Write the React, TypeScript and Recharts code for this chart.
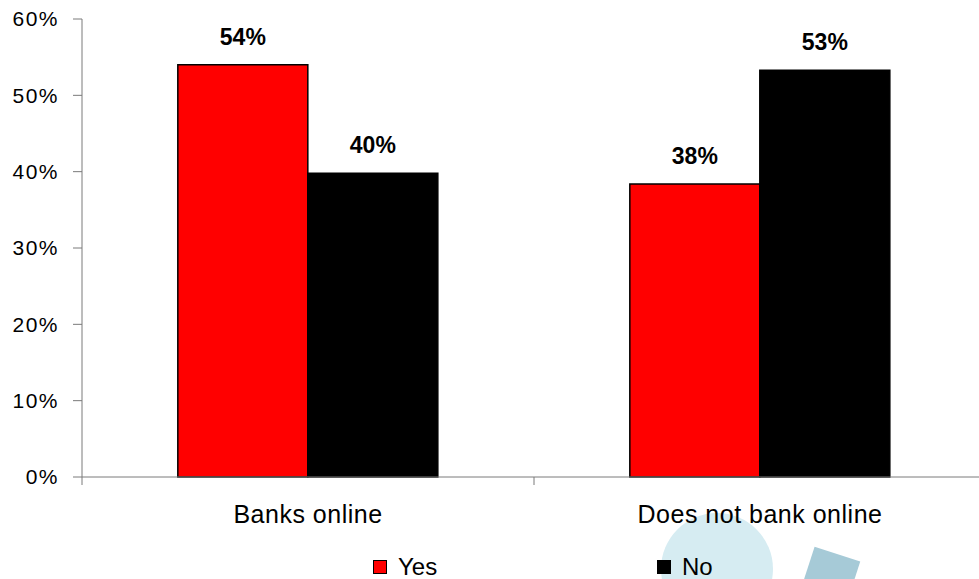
import React from 'react';
import { BarChart, Bar, XAxis, YAxis, Legend, LabelList } from 'recharts';

const categories = ['Banks online', 'Does not bank online'];
const yesValues = [54, 38.4];
const noValues = [39.8, 53.3];
const yTicks = [0, 10, 20, 30, 40, 50, 60];
const seriesOrder = ['yes', 'no'];

const data = categories.map((name, i) => ({ name, yes: yesValues[i], no: noValues[i] }));

const FONT = '"Liberation Sans", Arial, sans-serif';
const AXIS = '#7a7a7a';
const LABEL_GAP = 28;

// category label, plus a tick mark at the left edge of each band (Excel-style)
const CategoryTick = (props: any) => {
  const { x, y, payload } = props;
  const edge = x - (payload.offset || 0);
  const axisY = y - LABEL_GAP;
  return (
    <g>
      <line x1={edge} x2={edge} y1={axisY} y2={axisY + 8} stroke={AXIS} />
      <text
        x={x}
        y={y}
        dy="0.71em"
        textAnchor="middle"
        fontFamily={FONT}
        fontSize={25}
        letterSpacing={0.5}
        fill="#000"
      >
        {payload.value}
      </text>
    </g>
  );
};

const renderLegend = (props: any) => {
  const payload = [...(props.payload || [])].sort(
    (a: any, b: any) => seriesOrder.indexOf(a.dataKey) - seriesOrder.indexOf(b.dataKey)
  );
  return (
    <div style={{ display: 'flex', fontFamily: FONT, fontSize: 24, lineHeight: '24px', color: '#000' }}>
      {payload.map((entry: any) => (
        <div key={entry.value} style={{ width: 284, display: 'flex', alignItems: 'center' }}>
          <span
            style={{
              display: 'inline-block',
              width: 12,
              height: 12,
              background: entry.color,
              border: '1px solid #000',
              marginRight: 11,
            }}
          />
          <span>{entry.value}</span>
        </div>
      ))}
    </div>
  );
};

export default function App() {
  return (
    <div style={{ position: 'fixed', left: 0, top: 0, width: 979, height: 579, overflow: 'hidden', background: '#fff' }}>
      {/* faint logo watermark behind the chart */}
      <div style={{ position: 'absolute', left: 661, top: 513, width: 112, height: 112, borderRadius: '50%', background: '#d6ecf2' }} />
      <div style={{ position: 'absolute', left: 806, top: 553, width: 48, height: 48, background: '#a6cad7', transform: 'rotate(18deg)' }} />
      <div style={{ position: 'absolute', left: 0, top: 0 }}>
        <BarChart
          width={1000}
          height={579}
          data={data}
          margin={{ top: 19, right: 14, left: 0, bottom: 101 }}
          barCategoryGap="21.2%"
          barGap={0}
        >
          <XAxis
            dataKey="name"
            height={1}
            axisLine={{ stroke: AXIS }}
            tickLine={false}
            tickSize={0}
            tickMargin={LABEL_GAP}
            tick={<CategoryTick />}
          />
          <YAxis
            domain={[0, 60]}
            ticks={yTicks}
            width={82}
            tickSize={9}
            tickMargin={14}
            axisLine={{ stroke: AXIS }}
            tickLine={{ stroke: AXIS }}
            tickFormatter={(v: number) => `${v}%`}
            tick={{ fontFamily: FONT, fontSize: 21, fill: '#000', letterSpacing: 1.5 }}
          />
          <Legend
            verticalAlign="middle"
            layout="horizontal"
            wrapperStyle={{ left: 373, top: 555, width: 600, height: 24 }}
            content={renderLegend}
          />
          <Bar dataKey="yes" name="Yes" fill="#ff0000" stroke="#000" strokeWidth={1.5} isAnimationActive={false}>
            <LabelList
              dataKey="yes"
              position="top"
              offset={20}
              formatter={(v: any) => `${Math.round(Number(v))}%`}
              style={{ fontFamily: FONT, fontSize: 23, fontWeight: 'bold', fill: '#000' }}
            />
          </Bar>
          <Bar dataKey="no" name="No" fill="#000000" stroke="#000" strokeWidth={1.5} isAnimationActive={false}>
            <LabelList
              dataKey="no"
              position="top"
              offset={20}
              formatter={(v: any) => `${Math.round(Number(v))}%`}
              style={{ fontFamily: FONT, fontSize: 23, fontWeight: 'bold', fill: '#000' }}
            />
          </Bar>
        </BarChart>
      </div>
    </div>
  );
}
